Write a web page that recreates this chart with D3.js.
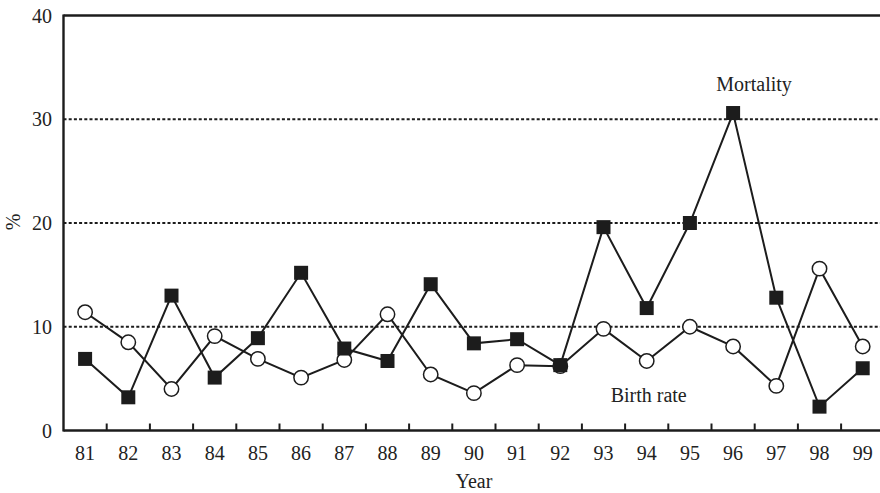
<!DOCTYPE html>
<html>
<head>
<meta charset="utf-8">
<script src="https://cdn.jsdelivr.net/npm/d3@7"></script>
<style>
  html, body { margin: 0; padding: 0; background: #fff; }
  svg text { font-family: "Liberation Serif", "Times New Roman", serif; fill: #222; }
</style>
</head>
<body>
<svg id="chart" width="880" height="493"></svg>
<script>
// Yearly rates (%), 1981–1999
const years = ["81","82","83","84","85","86","87","88","89","90","91","92","93","94","95","96","97","98","99"];
const mortality = [6.9, 3.2, 13.0, 5.1, 8.9, 15.2, 7.9, 6.7, 14.1, 8.4, 8.8, 6.3, 19.6, 11.8, 20.0, 30.6, 12.8, 2.3, 6.0];
const birthRate = [11.4, 8.5, 4.0, 9.1, 6.9, 5.1, 6.8, 11.2, 5.4, 3.6, 6.3, 6.2, 9.8, 6.7, 10.0, 8.1, 4.3, 15.6, 8.1];
const yTicks = [0, 10, 20, 30, 40];
const gridValues = [10, 20, 30];

const svg = d3.select("#chart");
const ink = "#1c1c1c";
const plotLeft = 63.5, plotRight = 884.3, plotTop = 15.5, plotBottom = 430.5;

const x = d3.scalePoint().domain(years).range([plotLeft, plotRight]).padding(0.5);
const y = d3.scaleLinear().domain([0, 40]).range([plotBottom, plotTop]);
const step = x.step();

// dotted reference lines
svg.append("g").selectAll("line").data(gridValues).join("line")
  .attr("x1", plotLeft).attr("x2", 880)
  .attr("y1", d => y(d)).attr("y2", d => y(d))
  .attr("stroke", ink).attr("stroke-width", 2)
  .attr("stroke-dasharray", "3,2.2");

// frame: left axis, top border, bottom axis
svg.append("line").attr("x1", plotLeft).attr("x2", plotLeft).attr("y1", plotTop - 1).attr("y2", plotBottom + 1)
  .attr("stroke", ink).attr("stroke-width", 2.4);
svg.append("line").attr("x1", plotLeft).attr("x2", 880).attr("y1", y(40)).attr("y2", y(40))
  .attr("stroke", ink).attr("stroke-width", 2.4);
svg.append("line").attr("x1", plotLeft).attr("x2", 880).attr("y1", plotBottom).attr("y2", plotBottom)
  .attr("stroke", ink).attr("stroke-width", 2.4);

// x ticks between categories, pointing up
svg.append("g").selectAll("line").data(years.slice(1)).join("line")
  .attr("x1", d => x(d) - step / 2).attr("x2", d => x(d) - step / 2)
  .attr("y1", plotBottom).attr("y2", plotBottom - 7)
  .attr("stroke", ink).attr("stroke-width", 2);

// y tick labels
svg.append("g").selectAll("text").data(yTicks).join("text")
  .attr("x", 52).attr("y", d => y(d)).attr("dy", "0.35em")
  .attr("text-anchor", "end").style("font-size", "20px")
  .text(d => d);

// x tick labels
svg.append("g").selectAll("text").data(years).join("text")
  .attr("x", d => x(d)).attr("y", 460)
  .attr("text-anchor", "middle").style("font-size", "20px")
  .text(d => d);

// axis titles
svg.append("text").attr("x", (plotLeft + plotRight) / 2).attr("y", 488)
  .attr("text-anchor", "middle").style("font-size", "20px").text("Year");
svg.append("text").attr("transform", "translate(20,222) rotate(-90)")
  .attr("text-anchor", "middle").style("font-size", "20px").text("%");

const lineGen = vals => d3.line().x((d, i) => x(years[i])).y(d => y(d))(vals);

// connecting lines
svg.append("path").attr("d", lineGen(birthRate))
  .attr("fill", "none").attr("stroke", ink).attr("stroke-width", 2);
svg.append("path").attr("d", lineGen(mortality))
  .attr("fill", "none").attr("stroke", ink).attr("stroke-width", 2);

// birth rate markers: open circles
svg.append("g").selectAll("circle").data(birthRate).join("circle")
  .attr("cx", (d, i) => x(years[i])).attr("cy", d => y(d)).attr("r", 7.2)
  .attr("fill", "#fff").attr("stroke", ink).attr("stroke-width", 1.5);

// mortality markers: filled squares
const sq = 14;
svg.append("g").selectAll("rect").data(mortality).join("rect")
  .attr("x", (d, i) => x(years[i]) - sq / 2).attr("y", d => y(d) - sq / 2)
  .attr("width", sq).attr("height", sq)
  .attr("fill", ink);

// series labels
svg.append("text").attr("x", x("96") + 21).attr("y", 91)
  .attr("text-anchor", "middle").style("font-size", "20px").text("Mortality");
svg.append("text").attr("x", x("94") + 2).attr("y", 402)
  .attr("text-anchor", "middle").style("font-size", "20px").text("Birth rate");
</script>
</body>
</html>
